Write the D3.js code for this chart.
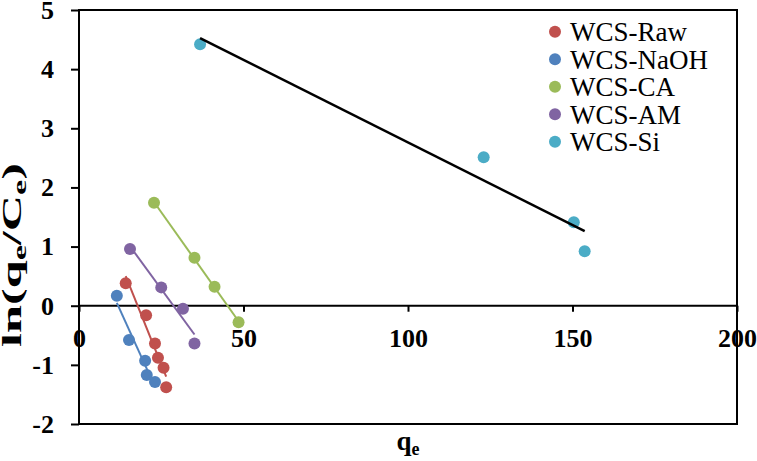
<!DOCTYPE html>
<html>
<head>
<meta charset="utf-8">
<script src="https://cdn.jsdelivr.net/npm/d3@7"></script>
<style>
  html, body { margin: 0; padding: 0; background: #fff; }
  svg { display: block; }
  text { font-family: "Liberation Serif", "Times New Roman", serif; }
</style>
</head>
<body>
<svg id="chart" width="757" height="461"></svg>
<script>
// ---- data ----
const seriesNames = ["WCS-Raw", "WCS-NaOH", "WCS-CA", "WCS-AM", "WCS-Si"];
const seriesColors = ["#C0504D", "#4F81BD", "#9BBB59", "#8064A2", "#4BACC6"];
const trendColors = ["#C0504D", "#4F81BD", "#9BBB59", "#8064A2", "#000000"];

const rawQ = [14.2, 20.4, 23.1, 24.0, 25.7, 26.5];
const rawY = [0.38, -0.16, -0.64, -0.88, -1.05, -1.38];
const naohQ = [11.5, 15.2, 20.1, 20.6, 23.1];
const naohY = [0.17, -0.58, -0.93, -1.17, -1.29];
const caQ = [22.8, 35.1, 41.2, 48.5];
const caY = [1.74, 0.81, 0.32, -0.28];
const amQ = [15.5, 25.0, 31.6, 35.1];
const amY = [0.96, 0.31, -0.05, -0.64];
const siQ = [36.8, 123.0, 150.4, 153.7];
const siY = [4.42, 2.51, 1.41, 0.92];

const xTicks = [0, 50, 100, 150, 200];
const yTicks = [-2, -1, 0, 1, 2, 3, 4, 5];

const seriesQ = [rawQ, naohQ, caQ, amQ, siQ];
const seriesY = [rawY, naohY, caY, amY, siY];

// ---- layout ----
const svg = d3.select("#chart");
const L = 79, R = 737, T = 10, B = 424;
const x = d3.scaleLinear().domain([0, 200]).range([L, R]);
const y = d3.scaleLinear().domain([-2, 5]).range([B, T]);
const fmt = d => String(d);
const FF = "Liberation Serif, Times New Roman, serif";

// frame
svg.append("rect").attr("x", L).attr("y", T).attr("width", R - L).attr("height", B - T)
  .attr("fill", "none").attr("stroke", "#000").attr("stroke-width", 2);

// y axis
const yAxis = svg.append("g").attr("transform", `translate(${L},0)`)
  .call(d3.axisLeft(y).tickValues(yTicks).tickSize(8).tickPadding(17).tickFormat(fmt));
yAxis.attr("font-family", FF);
yAxis.select(".domain").remove();
yAxis.selectAll("line").attr("stroke", "#000").attr("stroke-width", 2);
yAxis.selectAll("text").attr("font-size", 26).attr("font-weight", "bold")
  .attr("font-family", FF).attr("fill", "#000");

// x axis at y = 0
const xAxis = svg.append("g").attr("transform", `translate(0,${y(0)})`)
  .call(d3.axisBottom(x).tickValues(xTicks).tickSize(6).tickPadding(17).tickFormat(fmt));
xAxis.attr("font-family", FF);
xAxis.select(".domain").remove();
xAxis.selectAll("line").attr("stroke", "#000").attr("stroke-width", 2);
xAxis.selectAll("text").attr("font-size", 26).attr("font-weight", "bold")
  .attr("font-family", FF).attr("fill", "#000");

svg.append("line").attr("x1", L).attr("x2", R).attr("y1", y(0)).attr("y2", y(0))
  .attr("stroke", "#000").attr("stroke-width", 2);
svg.append("line").attr("x1", L).attr("x2", L).attr("y1", T).attr("y2", B)
  .attr("stroke", "#000").attr("stroke-width", 2);

// points
const plot = svg.append("g");
seriesQ.forEach((qs, i) => {
  plot.append("g").selectAll("circle").data(qs.map((q, j) => [q, seriesY[i][j]]))
    .join("circle")
    .attr("cx", d => x(d[0])).attr("cy", d => y(d[1])).attr("r", 6)
    .attr("fill", seriesColors[i]);
});

// linear trendlines
function fit(qs, ys) {
  const mx = d3.mean(qs), my = d3.mean(ys);
  let sxy = 0, sxx = 0;
  qs.forEach((q, k) => { sxy += (q - mx) * (ys[k] - my); sxx += (q - mx) * (q - mx); });
  const b = sxy / sxx, a = my - b * mx;
  const x0 = d3.min(qs), x1 = d3.max(qs);
  return [[x0, a + b * x0], [x1, a + b * x1]];
}
seriesQ.forEach((qs, i) => {
  const seg = fit(qs, seriesY[i]);
  plot.append("path").attr("d", d3.line().x(d => x(d[0])).y(d => y(d[1]))(seg))
    .attr("stroke", trendColors[i]).attr("stroke-width", i === 4 ? 2.5 : 2).attr("fill", "none");
});

// x tick labels on top of marks
xAxis.raise();

// axis titles
const xt = svg.append("text").attr("x", (L + R) / 2).attr("y", 450).attr("text-anchor", "middle")
  .attr("font-size", 27).attr("font-weight", "bold");
xt.append("tspan").text("q");
xt.append("tspan").attr("font-size", 18).attr("dy", 5).text("e");

const ytG = svg.append("g").attr("transform", "translate(21,255) rotate(-90)");
const yt = ytG.append("text").attr("text-anchor", "middle")
  .attr("font-size", 28).attr("font-weight", "bold");
yt.append("tspan").text("ln(q");
yt.append("tspan").attr("font-size", 19).attr("dy", 5).text("e");
yt.append("tspan").attr("dy", -5).text("/C");
yt.append("tspan").attr("font-size", 19).attr("dy", 5).text("e");
yt.append("tspan").attr("dy", -5).text(")");
const bw = yt.node().getBBox().width;
yt.attr("transform", `scale(${184 / bw},1)`);

// legend
const leg = svg.append("g");
seriesNames.forEach((n, i) => {
  const cy = 31.7 + i * 27.5;
  leg.append("circle").attr("cx", 555).attr("cy", cy).attr("r", 6).attr("fill", seriesColors[i]);
  leg.append("text").attr("x", 570).attr("y", cy).attr("dy", "0.35em")
    .attr("font-size", 27).attr("fill", "#000").text(n);
});
</script>
</body>
</html>
